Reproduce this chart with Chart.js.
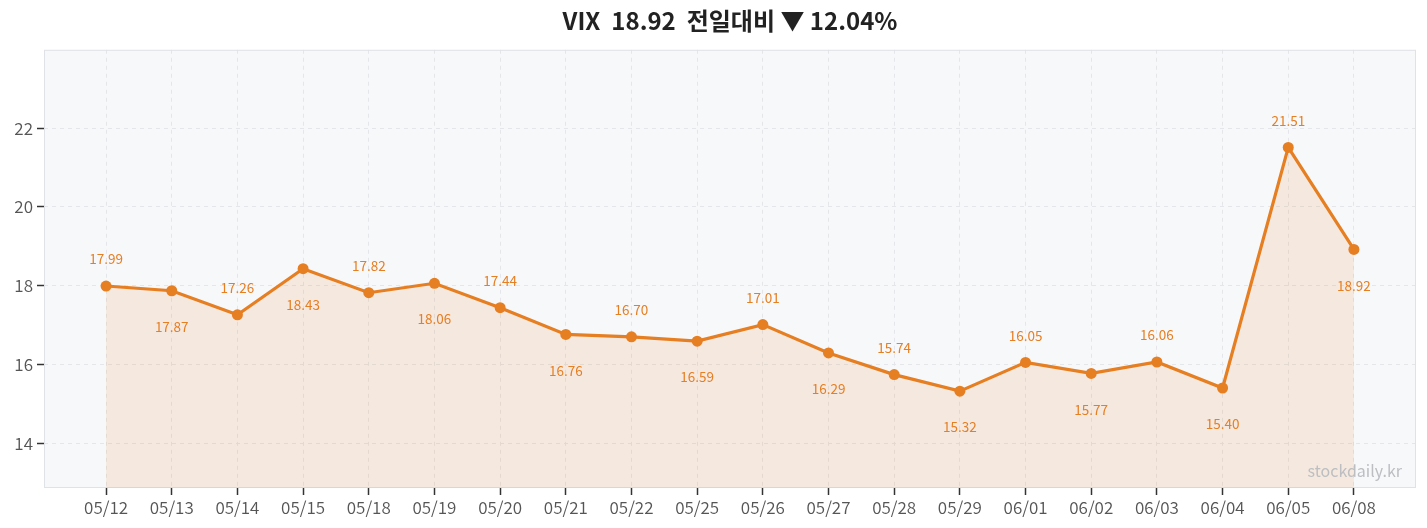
<!DOCTYPE html>
<html><head><meta charset="utf-8">
<script src="https://cdn.jsdelivr.net/npm/chart.js@4.4.1/dist/chart.umd.min.js"></script>
<style>html,body{margin:0;padding:0;background:#fff}#wrap{width:1427px;height:528px}</style>
</head><body><div id="wrap"><canvas id="c"></canvas></div>
<script>
const categories = ["05/12","05/13","05/14","05/15","05/18","05/19","05/20","05/21","05/22","05/25","05/26","05/27","05/28","05/29","06/01","06/02","06/03","06/04","06/05","06/08"];
const vixValues = [17.99,17.87,17.26,18.43,17.82,18.06,17.44,16.76,16.70,16.59,17.01,16.29,15.74,15.32,16.05,15.77,16.06,15.40,21.51,18.92];
const yTicks = [14,16,18,20,22];
const titleText = "VIX  18.92  전일대비 ▼ 12.04%";
const watermark = "stockdaily.kr";

const FONT = "'Noto Sans CJK KR','Noto Sans',sans-serif";
const ORANGE = "#e67e22";

const bgPlugin = {
  id:'bg',
  beforeDraw(chart){
    const {ctx, chartArea:a} = chart;
    ctx.save(); ctx.fillStyle = "#f7f8fa";
    ctx.fillRect(a.left,a.top,a.right-a.left,a.bottom-a.top);
    ctx.restore();
  },
  beforeDatasetsDraw(chart){
    const {ctx, chartArea:a} = chart;
    ctx.save(); ctx.strokeStyle = "#dfe2e7"; ctx.lineWidth = 1;
    ctx.strokeRect(a.left+0.5,a.top+0.5,a.right-a.left-1,a.bottom-a.top-1);
    ctx.restore();
  },
  afterDatasetsDraw(chart){
    const {ctx, chartArea:a} = chart;
    const meta = chart.getDatasetMeta(0);
    ctx.save();
    ctx.font = "400 13.5px " + FONT;
    ctx.fillStyle = ORANGE;
    ctx.textAlign = "center"; ctx.textBaseline = "middle";
    meta.data.forEach((p,i)=>{
      const v = vixValues[i].toFixed(2);
      const y = i%2===0 ? p.y-27 : p.y+36;
      ctx.fillText(v, p.x, y);
    });
    ctx.font = "400 16px " + FONT;
    ctx.fillStyle = "#bcbec2";
    ctx.textAlign = "right";
    ctx.fillText(watermark, a.right-14, a.bottom-17);
    ctx.restore();
  }
};

new Chart(document.getElementById('c'), {
  type:'line',
  data:{
    datasets:[{
      data: vixValues.map((v,i)=>({x:i,y:v})),
      borderColor: ORANGE, borderWidth: 3.2,
      backgroundColor: "rgba(230,126,34,0.12)",
      fill: 'start',
      pointRadius: 5.5, pointHoverRadius: 5.5,
      pointBackgroundColor: ORANGE, pointBorderColor: ORANGE, pointBorderWidth: 0,
      tension: 0
    }]
  },
  options:{
    responsive:true, maintainAspectRatio:false, animation:false,
    layout:{padding:{left:0,right:11,top:0,bottom:0}},
    plugins:{
      legend:{display:false}, tooltip:{enabled:false},
      title:{display:true, fullSize:false, text:titleText, color:"#222",
        font:{family:FONT, size:24, weight:'600'}, padding:{top:6,bottom:15}}
    },
    scales:{
      x:{type:'linear', min:-0.945, max:19.945,
        afterBuildTicks(s){ s.ticks = categories.map((c,i)=>({value:i})); },
        afterFit(s){ s.height = 40; },
        ticks:{ autoSkip:false, maxRotation:0, color:"#555", font:{family:FONT,size:17,weight:'350'}, padding:2,
          callback:(v)=>categories[v] },
        grid:{ color:"#e4e6ea", tickColor:"#333", tickLength:7, tickWidth:1.5, drawTicks:true },
        border:{display:false, dash:[4,4]}
      },
      y:{min:12.86, max:23.99,
        afterBuildTicks(s){ s.ticks = yTicks.map(v=>({value:v})); },
        afterFit(s){ s.width = 44; },
        ticks:{ color:"#555", font:{family:FONT,size:17,weight:'350'}, padding:4 },
        grid:{ color:"#e4e6ea", tickColor:"#333", tickLength:7, tickWidth:1.5 },
        border:{display:false, dash:[4,4]}
      }
    }
  },
  plugins:[bgPlugin]
});
</script></body></html>
